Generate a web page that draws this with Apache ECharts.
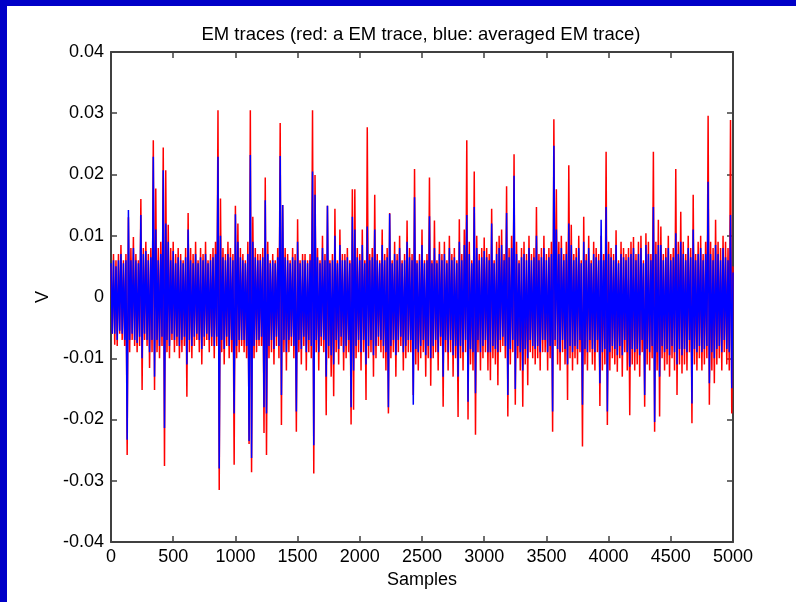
<!DOCTYPE html>
<html>
<head>
<meta charset="utf-8">
<script src="https://cdn.jsdelivr.net/npm/echarts@6/dist/echarts.min.js"></script>
<style>
html,body{margin:0;padding:0;background:#fff;}
#chart{width:796px;height:602px;}
</style>
</head>
<body>
<div id="chart"></div>
<script>
// one value read every 10 samples (about 1.25 px of the plot width)
const sampleStep = 10;
const titleText = 'EM traces (red: a EM trace, blue: averaged EM trace)';
const xName = 'Samples';
const yName = 'V';

// red: a single EM trace, in mV
const redTrace_mV = [
  5,-6,7,-7.8,6,-8,7,-6,8.5,-7,6,-8,7,-25.8,13,-9,8,-7,9.8,-8,
  7,-9,6,-8,16,-15.2,8,-7,9,-8,7,-11.6,8,-9,25.6,-15.2,17.7,-9,8,-10,
  9,-8,24.4,-27.6,20.7,-9,11.8,-10,8,-7,9,-9,7,-8,8,-10,7,-9,6,-8,
  8,-16.3,13.7,-9,8,-10,7,-8,9,-7,6,-9,8,-11,7,-8,9,-7,6,-9,
  7,-8,8,-10,9,-8,30.5,-31.5,16.1,-9,8,-11,7,-8,9,-10,8,-9,7,-27.4,
  14.9,-10,12,-9,8,-8,7,-9,6,-10,9,-24,30.5,-28.6,13.1,-10,8,-9,7,-8,
  7,-8,8,-22.2,19.5,-25.8,9,-10,6,-9,7,-11,6,-8,8,-10,28.4,-20.9,15,-9,
  8,-12,7,-9,6,-8,8,-10,7,-22,12.7,-9,6,-11,7,-8,7,-12,6,-9,
  7,-10,30.5,-28.8,19.9,-9,8,-12,6,-8,10,-9,7,-19.3,14.9,-10,6,-13,7,-16.2,
  14.4,-9,6,-11,11,-8,7,-12,7,-10,8,-9,6,-20.8,17.6,-18.4,17.6,-10,8,-9,
  7,-12,11,-9,6,-16.8,27.7,-10,7,-9,8,-13,16.7,-10,7,-8,6,-9,11,-10,
  7,-12,8,-19,13.7,-10,6,-9,9,-13,7,-9,10,-8,6,-12,7,-10,12.5,-9,
  8,-9,7,-16,20.9,-11,6,-12,7,-10,11,-9,6,-13,7,-10,19.5,-14.5,6,-10,
  12.5,-9,6,-12,9,-8,7,-17.9,9,-9,6,-12,10,-9,7,-13,8,-10,6,-19.6,
  12.7,-10,7,-12,11,-9,25.6,-20,9,-11,6,-12,20.5,-22.5,10,-9,7,-12,8,-10,
  9.7,-9,8,-12,7,-13.6,14.4,-10,6,-11,9,-14.4,10,-9,11,-8,7,-10,18.1,-19.5,
  8,-11,10,-9,23.3,-17.6,9,-10,6,-12,8,-17.9,9,-11,7,-14.4,10,-9,7,-10,
  8,-11,14.7,-10,7,-12,8,-9,10,-9,7,-12,8,-10,9,-22,29,-8,17.6,-11,
  9,-12,10,-9,7,-11,9,-16.8,21.5,-10,11.8,-12,7,-10,8,-11,10,-9,6,-24.4,
  13.1,-11,7,-12,10,-9,6,-11,9,-12,8,-9,7,-17.8,10,-12,7,-11,23.7,-20.9,
  9,-12,8,-10,7,-11,10.9,-12.2,6,-10,9,-13,8,-9,7,-12,8,-19.3,9,-11,
  9.8,-12,7,-11,9,-13,10,-9,6,-17.9,10.4,-11,9,-12,7,-10,23.7,-22,9,-12,
  12.6,-19.5,11.5,-10,7,-12,8,-11,10,-13,7,-10,8,-12,20.9,-16,9,-11,13.9,-12.5,
  9,-11,7,-12,10,-9,8,-20.6,16.7,-11,7,-12,9,-10,10,-12,7,-11,9,-10,
  29.6,-17.6,9,-12,8,-14.1,12.6,-11,9,-10,8,-12,10,-9,9,-11,8,-12,28.9,-19,
  5
];

// blue: averaged EM trace, in mV
const blueTrace_mV = [
  5.5,-6,6,-6,5,-7,6,-5.5,7,-6,5.5,-7,6,-23.3,14.2,-7,6,-6,8,-7,
  6,-7.5,5.5,-6.5,13.4,-10,7,-6,7.5,-7,6,-9,6.5,-7,22.9,-13,11,-7,6,-8,
  7,-6.5,20.7,-21.4,12,-7,9,-8,6,-6,7.5,-7,5.5,-6.5,6.5,-8,6,-7,5.5,-6.5,
  6.5,-11,11,-7,6,-8,5.5,-6.5,7,-6,5.5,-7,6.5,-8.5,6,-6.5,7,-6,5.5,-7,
  6,-6.5,6.5,-8,7,-6.5,22.9,-28,10,-7,6.5,-8.5,6,-6.5,7,-8,6.5,-7,6,-19,
  13.5,-8,9,-7,6.5,-7,6,-7,5.5,-8,7,-23.5,23.2,-26.3,9,-8,6.5,-7,6,-7,
  6,-6.5,6.5,-18,15.8,-19,7,-8,5.5,-7,6,-8.5,5.5,-6.5,6.5,-8,23,-16,15,-7,
  6.5,-9,6,-7,5.5,-6.5,6.5,-8,6,-18.7,9,-7,5.5,-8.5,6,-6.5,6,-9,5.5,-7,
  6,-8,20.5,-24.2,16.7,-7,6.5,-9,5.5,-6.5,8,-7,6,-13,14.9,-8,5.5,-9.5,6,-11,
  10,-7,5.5,-8.5,8.5,-6.5,6,-9,6,-8,6.5,-7,5.5,-18,13.1,-12,11,-8,6.5,-7,
  6,-9,8.5,-7,5.5,-11,11.5,-8,6,-7,6.5,-9.5,11,-8,6,-6.5,5.5,-7,8.5,-8,
  6,-9,6.5,-18,13.6,-8,5.5,-7,7,-9.5,6,-7,8,-6.5,5.5,-9,6,-8,9,-7,
  6.5,-7,6,-17.6,16.3,-8.5,5.5,-9,6,-8,8.5,-7,5.5,-9.5,6,-8,13.2,-10,5.5,-8,
  8,-7,5.5,-9,7,-6.5,6,-13,7,-7,5.5,-9,8,-7,6,-9.5,6.5,-8,5.5,-13,
  9,-8,6,-9,8.5,-7,13.4,-17.1,7,-8.5,5.5,-9,14.7,-15.7,8,-7,6,-9,6.5,-8,
  7.5,-7,6.5,-9,6,-9,12,-8,5.5,-8.5,7,-9,8,-7,8.5,-6.5,6,-8,13.7,-16,
  6.5,-8.5,8,-7,19.8,-15,7,-8,5.5,-9,6.5,-12,7,-8.5,6,-10,8,-7,6,-8,
  6.5,-8.5,10,-8,6,-9,6.5,-7,8,-7,6,-9,6.5,-8,7,-18.7,24.7,-7,11,-8.5,
  7,-9,8,-7,6,-8.5,7,-11,12,-8,8.5,-9,6,-8,6.5,-8.5,8,-7,5.5,-17.6,
  9,-8.5,6,-9,8,-7,5.5,-8.5,7,-9,6.5,-7,6,-14.1,12.6,-9,6,-8.5,14.7,-18.7,
  7,-9,6.5,-8,6,-8.5,8.5,-9.5,5.5,-8,7,-9.5,6.5,-7,6,-9,6.5,-11.4,7,-8.5,
  8,-9,6,-8.5,7,-9.5,8,-7,5.5,-16,8.5,-8.5,7,-9,6,-8,14.7,-20.4,7,-9,
  8.5,-13,8.5,-8,6,-9,6.5,-8.5,8,-9.5,6,-8,6.5,-9,10.4,-11,7,-8.5,9,-9.5,
  7,-8.5,6,-9,8,-7,6.5,-17.4,11,-8.5,6,-9,7,-8,8,-9,6,-8.5,7,-8,
  18.8,-14.1,7,-9,6,-10,8.5,-8.5,7,-8,6,-9,8,-7,6.5,-8.5,6,-9,13.4,-14.9,
  4
];

const toPoints = arr => arr.map((mv, i) => [i * sampleStep, mv / 1000]);

const font = 'Liberation Sans, Arial, Helvetica, sans-serif';
const axisColor = '#404040';

const chart = echarts.init(document.getElementById('chart'), null, {renderer: 'canvas'});

function xAx(pos, showLabels) {
  return {
    type: 'value', position: pos, min: 0, max: 5000, interval: 500,
    axisLine: {show: true, onZero: false, lineStyle: {color: axisColor, width: 2}},
    axisTick: {show: true, inside: true, length: 6, lineStyle: {color: axisColor, width: 1.5}},
    axisLabel: {show: showLabels, fontSize: 18, fontFamily: font, color: '#000', margin: 6,
                formatter: v => String(v)},
    splitLine: {show: false},
    name: showLabels ? xName : '', nameLocation: 'middle', nameGap: 29,
    nameTextStyle: {fontSize: 18, fontFamily: font, color: '#000'}
  };
}
function yAx(pos, showLabels) {
  return {
    type: 'value', position: pos, min: -0.04, max: 0.04, interval: 0.01,
    axisLine: {show: true, onZero: false, lineStyle: {color: axisColor, width: 2}},
    axisTick: {show: true, inside: true, length: 6, lineStyle: {color: axisColor, width: 1.5}},
    axisLabel: {show: showLabels, fontSize: 18, fontFamily: font, color: '#000', margin: 7},
    splitLine: {show: false},
    name: showLabels ? yName : '', nameLocation: 'middle', nameGap: 58,
    nameTextStyle: {fontSize: 18, fontFamily: font, color: '#000'}
  };
}

chart.setOption({
  animation: false,
  backgroundColor: '#ffffff',
  title: {
    text: titleText, left: 416, top: 20, textAlign: 'center',
    textStyle: {fontSize: 18.5, fontWeight: 'normal', fontFamily: font, color: '#000'}
  },
  graphic: [
    {type: 'rect', shape: {x: 0, y: 0, width: 796, height: 6}, style: {fill: '#0000C8'}, silent: true},
    {type: 'rect', shape: {x: 0, y: 0, width: 7, height: 602}, style: {fill: '#0000C8'}, silent: true}
  ],
  grid: {left: 111, top: 52, right: 63, bottom: 60},
  xAxis: [xAx('bottom', true), xAx('top', false)],
  yAxis: [yAx('left', true), yAx('right', false)],
  series: [
    {type: 'line', data: toPoints(redTrace_mV), showSymbol: false, symbol: 'none',
     lineStyle: {color: '#FF0000', width: 1.5}, silent: true, z: 2},
    {type: 'line', data: toPoints(blueTrace_mV), showSymbol: false, symbol: 'none',
     lineStyle: {color: '#0000FF', width: 1.5}, silent: true, z: 3}
  ]
});
</script>
</body>
</html>
